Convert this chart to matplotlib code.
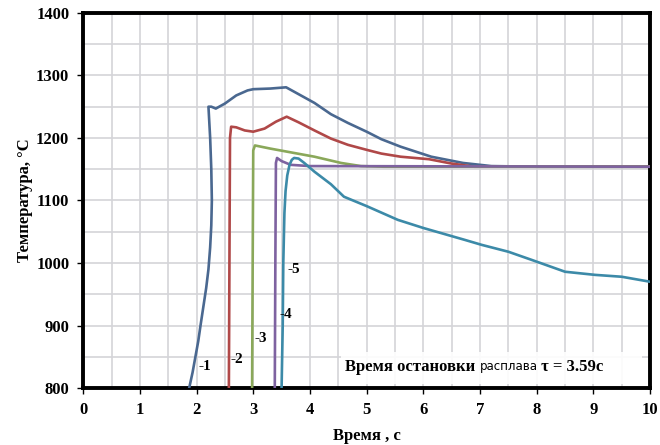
import matplotlib
matplotlib.use("Agg")
import matplotlib.pyplot as plt
from matplotlib.patches import Rectangle
from matplotlib.ticker import MultipleLocator

# curve data (time, s / temperature, C)
t1 = [1.87, 1.93, 1.98, 2.03, 2.07, 2.12, 2.17, 2.21, 2.24, 2.26, 2.27, 2.26, 2.24, 2.21,
      2.26, 2.34, 2.5, 2.7, 2.9, 3.0, 3.3, 3.58, 3.8, 4.08, 4.37, 4.67, 5.0, 5.26, 5.6,
      6.14, 6.7, 7.2, 8.0, 10.0]
T1 = [800, 825, 850, 875, 900, 930, 960, 990, 1025, 1060, 1100, 1150, 1200, 1250,
      1250, 1247, 1255, 1268, 1276, 1278, 1279, 1281, 1270, 1256, 1238, 1224, 1210, 1198, 1186,
      1170, 1160, 1155, 1154, 1154]

t2 = [2.57, 2.58, 2.59, 2.61, 2.7, 2.85, 3.0, 3.2, 3.4, 3.59, 3.8, 4.08, 4.37, 4.67,
      5.0, 5.26, 5.6, 6.1, 6.5, 6.9, 8.0, 10.0]
T2 = [800, 1000, 1200, 1218, 1217, 1212, 1210, 1215, 1226, 1234, 1225, 1212, 1199, 1189,
      1181, 1175, 1170, 1166, 1159, 1154, 1154, 1154]

t3 = [2.98, 2.99, 3.0, 3.03, 3.3, 3.6, 4.08, 4.55, 4.9, 5.3, 10.0]
T3 = [800, 1000, 1180, 1188, 1183, 1178, 1170, 1160, 1155, 1154, 1154]

t4 = [3.38, 3.39, 3.40, 3.42, 3.5, 3.66, 4.0, 10.0]
T4 = [800, 1000, 1160, 1168, 1163, 1157, 1155, 1154]

t5 = [3.50, 3.52, 3.53, 3.55, 3.57, 3.60, 3.64, 3.68, 3.72, 3.8, 3.9, 4.08, 4.37, 4.6, 5.0,
      5.55, 6.0, 6.73, 7.03, 7.5, 7.91, 8.5, 9.03, 9.5, 10.0]
T5 = [800, 900, 1000, 1080, 1115, 1140, 1157, 1165, 1168, 1167, 1160, 1146, 1126, 1106, 1091,
      1069, 1056, 1037, 1029, 1018, 1005, 986, 981, 978, 970]

curves = [(t1, T1, '#4a6890'), (t2, T2, '#b04848'), (t3, T3, '#8aa85a'),
          (t4, T4, '#7e62a0'), (t5, T5, '#3c8aa8')]

# label positions for curve numbers
label_names = ['-1', '-2', '-3', '-4', '-5']
label_x = [2.03, 2.6, 3.02, 3.46, 3.6]
label_y = [834, 845, 880, 917, 990]

plt.rcParams['font.family'] = ['Liberation Serif', 'DejaVu Serif']
plt.rcParams['font.weight'] = 'bold'

fig = plt.figure(figsize=(6.6, 4.45), dpi=100)
ax = fig.add_axes([0.126, 0.128, 0.859, 0.843])

for t, T, c in curves:
    ax.plot(t, T, color=c, linewidth=1.9, zorder=3)

for name, x, y in zip(label_names, label_x, label_y):
    ax.text(x, y, name, fontsize=11, fontweight='bold', va='center', ha='left', zorder=4)

ax.set_xlim(0, 10)
ax.set_ylim(800, 1400)
ax.xaxis.set_major_locator(MultipleLocator(1))
ax.xaxis.set_minor_locator(MultipleLocator(0.5))
ax.yaxis.set_major_locator(MultipleLocator(100))
ax.yaxis.set_minor_locator(MultipleLocator(50))
ax.grid(True, which='both', color='#d4d4d8', linewidth=1.2, zorder=0)
ax.set_axisbelow(True)

for s in ax.spines.values():
    s.set_linewidth(2.8)
    s.set_color('black')

ax.tick_params(which='major', length=4, width=1, direction='out', labelsize=12, pad=6)
ax.tick_params(which='minor', length=0)
for lab in ax.get_xticklabels() + ax.get_yticklabels():
    lab.set_fontweight('bold')

ax.set_xlabel('Время , с', fontsize=12, fontweight='bold', labelpad=7)
ax.set_ylabel('Температура, °С', fontsize=12, fontweight='bold', labelpad=2)

# note at the bottom right on a white backing
ax.add_patch(Rectangle((0.455, 0.012), 0.53, 0.085, transform=ax.transAxes,
                       facecolor='white', edgecolor='none', alpha=0.9, zorder=4.5))
p1 = ax.text(4.62, 834, 'Время остановки ', fontsize=12, fontweight='bold',
             va='center', ha='left', zorder=5)
p2 = ax.annotate('расплава', xy=(1, 0.5), xycoords=p1, va='center', ha='left',
                 fontsize=8.5, fontweight='normal', family='DejaVu Sans', zorder=5)
ax.annotate(' τ = 3.59с', xy=(1, 0.5), xycoords=p2, va='center', ha='left',
            fontsize=12, fontweight='bold', zorder=5)

fig.savefig('out.png', dpi=100)
